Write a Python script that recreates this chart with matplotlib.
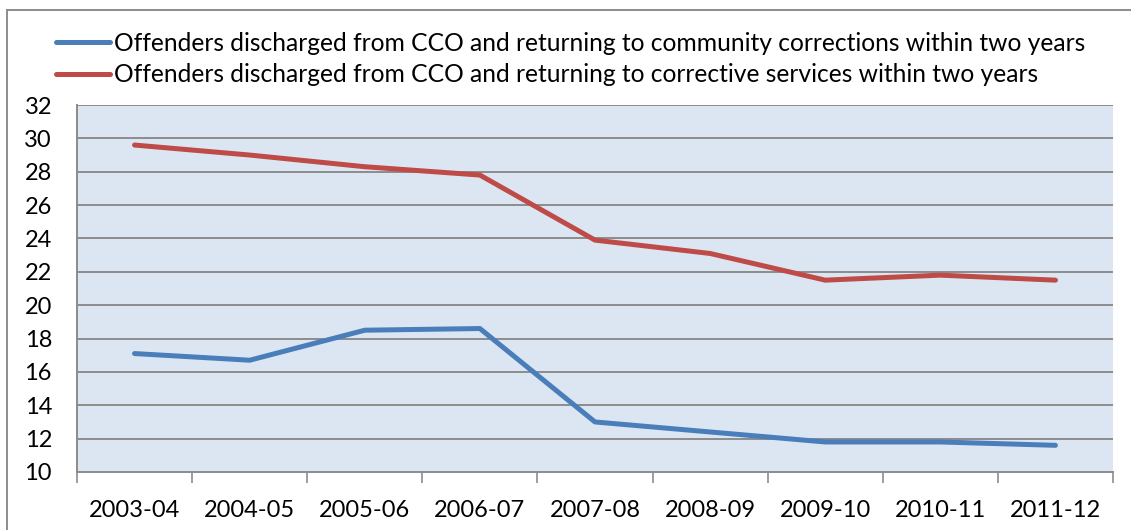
import matplotlib.pyplot as plt
from matplotlib.patches import Rectangle

years = ["2003-04", "2004-05", "2005-06", "2006-07", "2007-08",
         "2008-09", "2009-10", "2010-11", "2011-12"]
community = [17.1, 16.7, 18.5, 18.6, 13.0, 12.4, 11.8, 11.8, 11.6]
corrective = [29.6, 29.0, 28.3, 27.8, 23.9, 23.1, 21.5, 21.8, 21.5]
series_names = [
    "Offenders discharged from CCO and returning to community corrections within two years",
    "Offenders discharged from CCO and returning to corrective services within two years",
]

plt.rcParams['font.family'] = ['Lato', 'DejaVu Sans']

fig = plt.figure(figsize=(11.31, 5.30), dpi=100)
ax = fig.add_axes([77 / 1131, 1 - 472 / 530, (1113 - 77) / 1131, (472 - 105) / 530])
ax.set_facecolor("#dce6f2")

x = range(len(years))
ax.plot(x, community, color="#4a7ebb", lw=3.6, solid_capstyle="round",
        solid_joinstyle="round", label=series_names[0], zorder=3)
ax.plot(x, corrective, color="#be4b48", lw=3.6, solid_capstyle="round",
        solid_joinstyle="round", label=series_names[1], zorder=3)

ax.set_xlim(-0.5, len(years) - 0.5)
ax.set_ylim(10, 32)
ax.set_yticks(range(10, 33, 2))
ax.grid(axis="y", color="#8c8c8c", lw=1.4, zorder=1)
ax.set_axisbelow(True)

ax.set_xticks(x)
ax.set_xticklabels(years)
ax.set_xticks([i - 0.5 for i in range(len(years) + 1)], minor=True)
ax.tick_params(axis="x", which="major", length=0, pad=20, labelsize=17)
ax.tick_params(axis="x", which="minor", length=8, width=1.2, color="#8c8c8c")
ax.tick_params(axis="y", length=0, pad=18, labelsize=17)

for side in ["top", "right"]:
    ax.spines[side].set_visible(False)
for side in ["left", "bottom"]:
    ax.spines[side].set_color("#8c8c8c")
    ax.spines[side].set_linewidth(1.4)

fig.legend(loc="upper left", bbox_to_anchor=(56 / 1131, 1 - 32 / 530),
           frameon=False, fontsize=17.7, handlelength=2.2, handletextpad=0.15,
           labelspacing=0.33, borderaxespad=0, borderpad=0)

# outer chart border
fig.add_artist(Rectangle((7 / 1131, -0.1), 1.2, 1.1 - 10 / 530,
                         transform=fig.transFigure, fill=False,
                         edgecolor="#8c8c8c", lw=1.4, clip_on=False))

fig.savefig("out.png", dpi=100)
